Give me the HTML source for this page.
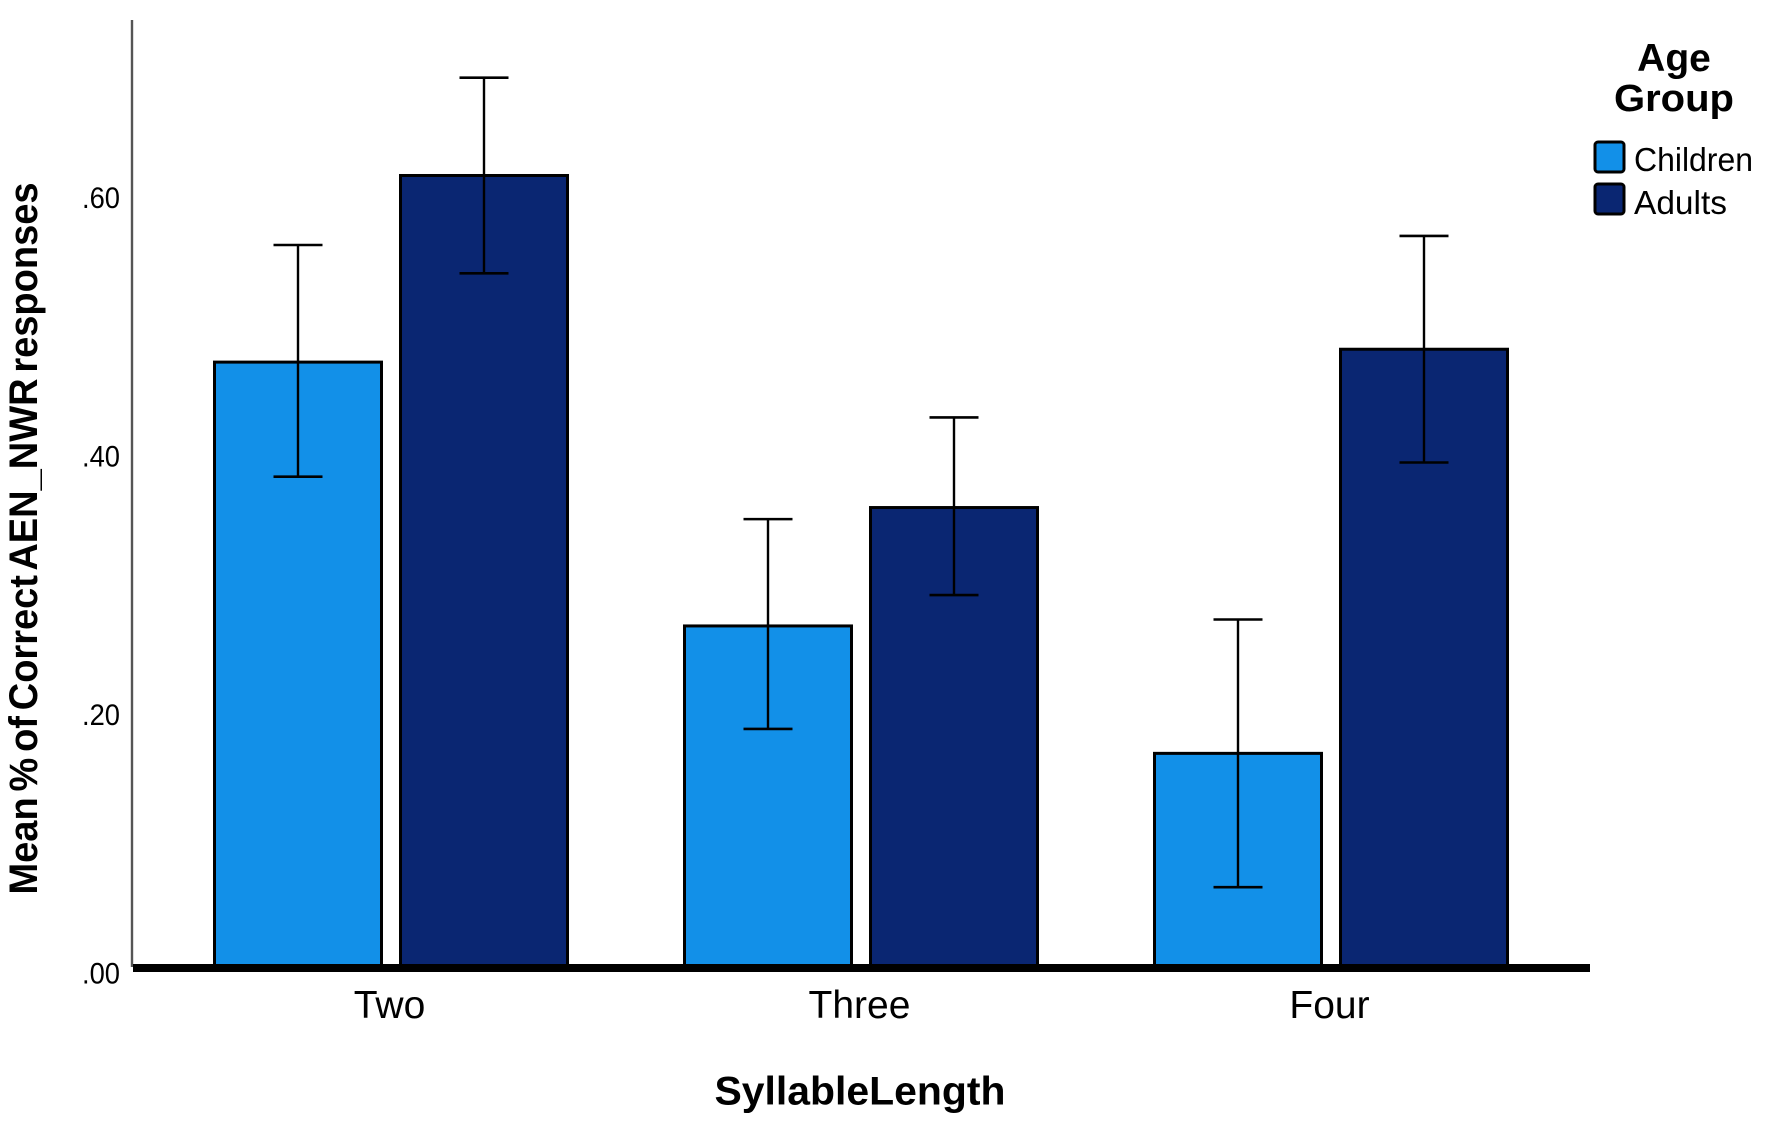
<!DOCTYPE html>
<html>
<head>
<meta charset="utf-8">
<title>Mean % of Correct AEN_NWR responses by Syllable Length</title>
<style>
html,body{margin:0;padding:0;background:#fff;width:1772px;height:1136px;overflow:hidden}
svg{display:block}
text{font-family:"Liberation Sans",sans-serif;fill:#000}
</style>
</head>
<body>
<svg id="chart" xmlns="http://www.w3.org/2000/svg" width="1772" height="1136" viewBox="0 0 1772 1136">
  <rect x="0" y="0" width="1772" height="1136" fill="#fff"/>
  <g id="bars"></g>
  <g id="errors"></g>
  <line x1="132" y1="20" x2="132" y2="967" stroke="#555" stroke-width="2.4"/>
  <line x1="133" y1="968" x2="1590" y2="968" stroke="#000" stroke-width="8"/>
  <g id="ticks"></g>
  <text transform="translate(37,538.5) rotate(-90)" text-anchor="middle" font-size="40" font-weight="700" word-spacing="-5" textLength="712" lengthAdjust="spacingAndGlyphs">Mean % of Correct AEN_NWR responses</text>
  <text x="860" y="1104.5" text-anchor="middle" font-size="40" font-weight="700" textLength="291" lengthAdjust="spacingAndGlyphs">SyllableLength</text>
  <g>
    <text x="1674" y="71" text-anchor="middle" font-size="39" font-weight="700">Age</text>
    <text x="1674" y="111" text-anchor="middle" font-size="38" font-weight="700" textLength="120" lengthAdjust="spacingAndGlyphs">Group</text>
    <rect x="1595" y="142" width="29" height="30" rx="3" fill="#1290E8" stroke="#000" stroke-width="3"/>
    <text x="1634" y="171" font-size="33" textLength="119" lengthAdjust="spacingAndGlyphs">Children</text>
    <rect x="1595" y="184" width="29" height="30" rx="3" fill="#0A2672" stroke="#000" stroke-width="3"/>
    <text x="1634" y="214" font-size="33" textLength="93" lengthAdjust="spacingAndGlyphs">Adults</text>
  </g>
</svg>
<script>
const categories = ["Two", "Three", "Four"];
const seriesNames = ["Children", "Adults"];
const childrenMeans = [0.470, 0.265, 0.166];
const adultsMeans = [0.615, 0.357, 0.480];
const childrenHigh = [0.561, 0.348, 0.270];
const adultsHigh = [0.691, 0.427, 0.568];
const childrenLow = [0.381, 0.185, 0.062];
const adultsLow = [0.539, 0.289, 0.392];
const yTickValues = [0, 0.2, 0.4, 0.6];
const yTickLabels = [".00", ".20", ".40", ".60"];

const NS = "http://www.w3.org/2000/svg";
const Y0 = 967, Y_SCALE = 1287;
const LABEL_Y0 = 983.4, LABEL_SCALE = 1292.7;
const CAT_START = 391, CAT_STEP = 470, BAR_OFFSET = 93, BAR_WIDTH = 167, CAP = 49;
const seriesColors = ["#1290E8", "#0A2672"];
const meansBySeries = [childrenMeans, adultsMeans];
const highBySeries = [childrenHigh, adultsHigh];
const lowBySeries = [childrenLow, adultsLow];

function yScale(v) { return Y0 - v * Y_SCALE; }
function yLabelScale(v) { return LABEL_Y0 - v * LABEL_SCALE; }
function xScale(catIndex, seriesIndex) {
  return CAT_START + catIndex * CAT_STEP + (seriesIndex === 0 ? -BAR_OFFSET : BAR_OFFSET);
}
function make(tag, attrs, parent) {
  const el = document.createElementNS(NS, tag);
  for (const k in attrs) el.setAttribute(k, attrs[k]);
  parent.appendChild(el);
  return el;
}

const barsLayer = document.getElementById("bars");
const errorsLayer = document.getElementById("errors");
const ticksLayer = document.getElementById("ticks");

categories.forEach(function (cat, c) {
  seriesNames.forEach(function (name, s) {
    const cx = xScale(c, s);
    const top = yScale(meansBySeries[s][c]);
    const bar = make("rect", {
      x: cx - BAR_WIDTH / 2, y: top, width: BAR_WIDTH, height: Y0 - top,
      fill: seriesColors[s], stroke: "#000", "stroke-width": 3
    }, barsLayer);
    
    

    const hi = yScale(highBySeries[s][c]);
    const lo = yScale(lowBySeries[s][c]);
    const group = make("g", { stroke: "#000", fill: "none" }, errorsLayer);
    
    
    make("line", { x1: cx, y1: hi, x2: cx, y2: lo, "stroke-width": 2.4 }, group);
    make("line", { x1: cx - CAP / 2, y1: hi, x2: cx + CAP / 2, y2: hi, "stroke-width": 2.6 }, group);
    make("line", { x1: cx - CAP / 2, y1: lo, x2: cx + CAP / 2, y2: lo, "stroke-width": 2.6 }, group);
  });

  const label = make("text", {
    x: CAT_START + c * CAT_STEP - 1.5, y: 1018, "text-anchor": "middle", "font-size": 39
  }, ticksLayer);
  label.textContent = cat;
  
  
});

yTickValues.forEach(function (v, i) {
  const label = make("text", {
    x: 120, y: yLabelScale(v), "text-anchor": "end", "font-size": 30,
    textLength: 38, lengthAdjust: "spacingAndGlyphs"
  }, ticksLayer);
  label.textContent = yTickLabels[i];
  
  
});
</script>
</body>
</html>
